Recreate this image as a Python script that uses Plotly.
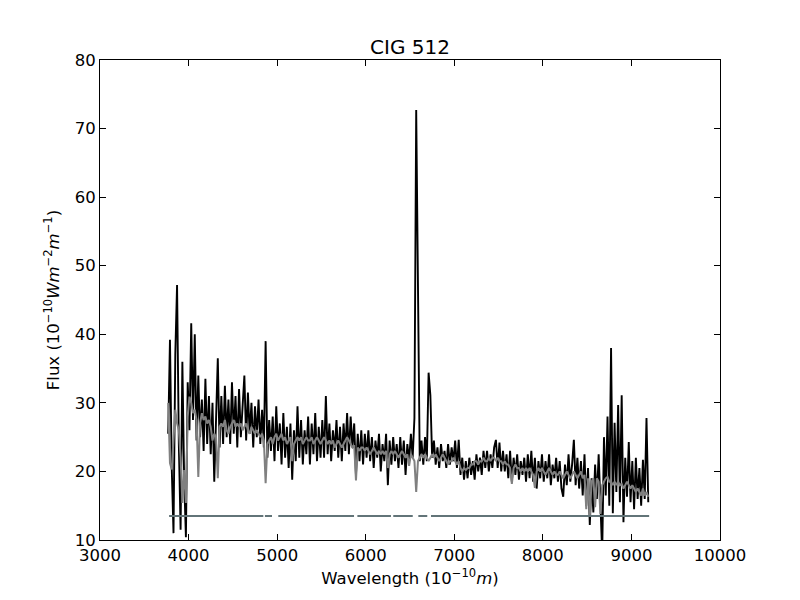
import numpy as np
import plotly.graph_objects as go

# wavelength grid of the spectrum (Angstrom), 20 A sampling from 3770 to 9190
wl_start, wl_step, n_pix = 3770, 20, 272
wavelength = wl_start + wl_step * np.arange(n_pix)

flux_obs = [
    25.5, 39.2, 20.5, 11.0, 37.0, 47.2, 24.0, 11.5, 36.0, 19.0,
    10.4, 33.0, 26.0, 41.6, 27.5, 40.0, 24.5, 34.0, 25.0, 30.5,
    23.0, 33.5, 24.0, 31.0, 22.5, 30.0, 18.5, 29.5, 36.5, 23.5,
    31.0, 24.0, 32.5, 25.0, 30.5, 24.0, 33.0, 25.5, 31.0, 23.5,
    32.0, 25.0, 30.0, 34.0, 24.5, 31.5, 25.5, 30.0, 23.5, 29.5,
    25.0, 30.5, 24.0, 29.0, 23.5, 39.0, 22.0, 27.5, 23.0, 28.0,
    21.5, 29.5, 23.0, 27.0, 21.0, 28.5, 22.0, 26.5, 20.5, 27.0,
    18.8, 26.0, 21.5, 29.5, 22.0, 27.5, 21.0, 26.0, 22.5, 28.0,
    21.0, 27.0, 22.5, 28.5, 21.5, 26.5, 22.0, 27.5, 22.0, 31.0,
    22.5, 27.0, 21.5, 26.0, 23.0, 27.5, 22.0, 26.5, 21.5, 27.0,
    23.0, 28.5, 22.5, 28.0, 23.5, 27.0, 19.5, 25.5, 21.5, 26.0,
    21.0, 25.5, 22.0, 26.0, 21.5, 25.0, 20.5, 24.5, 22.0, 25.5,
    20.0, 24.0, 21.5, 25.5, 18.0, 24.5, 21.0, 25.0, 21.5, 24.0,
    20.5, 25.0, 21.0, 24.5, 19.5, 24.0, 21.5, 25.5, 22.0, 27.8,
    72.7, 40.8, 21.5, 24.5, 21.0, 25.0, 21.5, 34.4, 31.1, 22.0,
    24.5, 21.0, 23.5, 20.5, 24.0, 21.5, 23.0, 20.5, 24.0, 21.0,
    23.5, 21.5, 24.5, 20.5, 24.6, 19.5, 22.0, 18.8, 21.5, 19.0,
    22.0, 19.5, 21.5, 18.8, 22.5, 20.0, 22.0, 19.5, 23.0, 20.5,
    23.0, 20.0, 22.5, 20.5, 23.5, 24.6, 20.5, 24.2, 20.0, 23.0,
    20.0, 22.5, 19.0, 23.0, 18.5, 22.0, 19.5, 22.5, 18.8, 21.5,
    19.5, 22.0, 18.5, 22.5, 19.0, 23.0, 18.5, 22.0, 17.5, 21.5,
    19.0, 22.5, 18.5, 21.5, 19.0, 22.5, 18.0, 21.0, 19.0, 22.0,
    18.5, 21.5, 17.5, 16.3, 21.0, 18.0, 22.5, 18.5, 21.0, 24.6,
    18.0, 22.0, 17.5, 21.5, 16.5, 22.5, 15.0, 20.5, 12.2, 19.0,
    14.0, 21.0, 16.0, 22.5, 13.9, 8.0, 25.0, 16.5, 28.0, 15.0,
    38.0, 13.9, 27.1, 17.0, 29.7, 15.5, 31.1, 12.6, 22.0, 16.3,
    24.3, 15.5, 21.5, 14.5, 22.0, 16.0, 20.5, 15.0, 21.7, 16.0, 27.8, 15.5,
]

# fitted stellar model (grey curve)
flux_fit = [
    30.0, 21.2, 20.3, 25.0, 29.0, 27.0, 26.0, 22.1, 15.4, 20.2,
    15.4, 28.0, 30.9, 30.0, 28.5, 29.0, 27.5, 19.2, 27.0, 28.5,
    27.5, 28.0, 27.0, 27.5, 26.5, 24.5, 25.5, 25.0, 19.0, 26.5,
    27.0, 26.5, 27.5, 26.0, 25.5, 26.5, 27.0, 27.5, 26.5, 27.0,
    26.5, 27.0, 26.0, 26.5, 27.0, 26.0, 25.5, 26.5, 26.0, 25.5,
    26.0, 25.5, 25.0, 25.5, 24.5, 18.3, 24.0, 24.5, 25.0, 24.0,
    25.0, 25.5, 24.5, 25.0, 25.5, 24.5, 25.0, 24.0, 24.5, 25.0,
    21.5, 24.0, 24.5, 25.0, 24.5, 25.0, 24.0, 24.5, 25.0, 24.5,
    24.5, 25.0, 24.0, 24.5, 25.0, 24.5, 24.0, 24.5, 25.0, 24.5,
    24.0, 24.5, 24.0, 24.5, 23.5, 24.0, 24.5, 24.0, 23.5, 24.0,
    24.5, 25.0, 24.5, 24.0, 23.5, 23.8, 18.7, 23.5, 23.0, 23.5,
    23.5, 23.0, 23.5, 23.0, 22.5, 23.0, 23.5, 23.0, 22.5, 23.0,
    22.5, 23.0, 22.5, 23.0, 20.5, 22.5, 23.0, 22.5, 23.0, 22.5,
    22.0, 22.5, 23.0, 22.5, 22.0, 22.5, 20.8, 22.5, 22.0, 21.5,
    17.0, 21.5, 22.0, 22.5, 22.0, 22.5, 22.0, 21.5, 22.0, 22.5,
    22.0, 22.5, 22.0, 21.5, 22.0, 22.5, 22.0, 21.5, 21.0, 21.5,
    21.5, 22.0, 21.5, 21.0, 21.5, 20.5, 20.0, 20.5, 20.2, 20.5,
    20.5, 21.0, 21.0, 21.5, 21.5, 21.0, 21.5, 21.5, 22.0, 21.5,
    21.5, 22.0, 21.5, 22.0, 22.0, 21.5, 22.0, 21.5, 21.5, 21.0,
    21.5, 21.0, 21.0, 20.5, 18.2, 20.5, 21.0, 20.5, 20.5, 20.0,
    20.5, 20.0, 20.5, 20.0, 20.5, 20.0, 19.5, 17.6, 20.0, 20.5,
    20.0, 20.5, 20.0, 19.5, 20.0, 20.5, 20.0, 19.5, 20.0, 19.5,
    19.5, 20.0, 19.5, 19.0, 19.5, 20.0, 19.5, 19.0, 19.5, 20.0,
    19.5, 19.0, 19.5, 20.0, 19.0, 19.5, 14.5, 19.0, 13.4, 18.5,
    19.0, 14.8, 19.0, 18.5, 13.8, 18.0, 18.5, 19.0, 19.2, 18.5,
    18.5, 18.0, 18.5, 18.0, 18.5, 18.0, 18.2, 17.5, 18.0, 18.5,
    18.0, 17.5, 18.0, 17.5, 17.0, 17.5, 17.0, 16.5, 17.5, 16.5, 17.0, 16.3,
]

# masked-region marker line: level and unmasked wavelength intervals
mask_level = 13.5
mask_segments = [(3780, 4844), (4862, 4942), (5013, 5868), (5906, 6285),
                 (6311, 6531), (6594, 6695), (6737, 9200)]

mask_x, mask_y = [], []
for lo, hi in mask_segments:
    mask_x += [lo, hi, None]
    mask_y += [mask_level, mask_level, None]

fig = go.Figure()

fig.add_trace(go.Scatter(x=wavelength, y=flux_obs, mode='lines',
                         line=dict(color='black', width=1.9)))
fig.add_trace(go.Scatter(x=wavelength, y=flux_fit, mode='lines',
                         line=dict(color='#808080', width=2)))
fig.add_trace(go.Scatter(x=mask_x, y=mask_y, mode='lines',
                         line=dict(color='#627478', width=2)))

axis_style = dict(showline=True, linecolor='black', linewidth=1, mirror='ticks',
                  ticks='inside', ticklen=6, tickcolor='black', showgrid=False,
                  zeroline=False, tickformat='d',
                  tickfont=dict(size=16.5, color='black'))

fig.update_xaxes(range=[3000, 10000], dtick=1000,
                 title=dict(text='Wavelength (10<sup>−10</sup><i>m</i>)',
                            font=dict(size=16.5, color='black'), standoff=8),
                 **axis_style)
fig.update_yaxes(range=[10, 80], dtick=10,
                 title=dict(text='Flux (10<sup>−10</sup><i>Wm</i><sup>−2</sup><i>m</i><sup>−1</sup>)',
                            font=dict(size=16.5, color='black'), standoff=10),
                 **axis_style)

# the page adds an 8px body margin, so the plot box is shifted up/left by 8px
fig.update_layout(
    width=800, height=600,
    margin=dict(l=92, r=88, t=52, b=68),
    paper_bgcolor='white', plot_bgcolor='white',
    font=dict(family='DejaVu Sans', color='black'),
    title=dict(text='CIG 512', x=0.5025, xanchor='center', y=0.935, yanchor='middle',
               font=dict(size=20, color='black')),
    showlegend=False,
)

fig.write_html("out.html")
